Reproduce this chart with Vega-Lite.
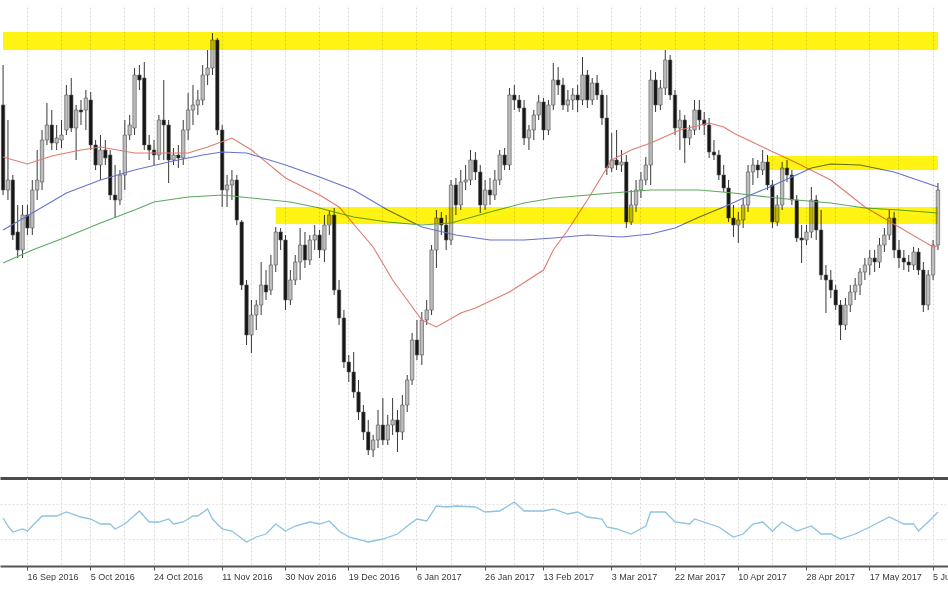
{
  "$schema": "https://vega.github.io/schema/vega-lite/v6.json",
  "padding": {"left": 0, "top": 7, "right": 0, "bottom": 0},
  "background": "white",
  "config": {"view": {"stroke": null}, "axis": {"labelFont": "Liberation Sans"}},
  "spacing": 0,
  "resolve": {"scale": {"x": "shared"}},
  "datasets": {
    "candles": [
      {"d":"2016-09-09","o":375,"h":415,"l":285,"c":290},
      {"d":"2016-09-12","o":290,"h":360,"l":280,"c":300},
      {"d":"2016-09-13","o":300,"h":305,"l":240,"c":245},
      {"d":"2016-09-14","o":248,"h":275,"l":222,"c":230},
      {"d":"2016-09-15","o":230,"h":275,"l":222,"c":265},
      {"d":"2016-09-16","o":265,"h":275,"l":245,"c":252},
      {"d":"2016-09-19","o":252,"h":300,"l":245,"c":290},
      {"d":"2016-09-20","o":290,"h":330,"l":280,"c":300},
      {"d":"2016-09-21","o":298,"h":350,"l":290,"c":340},
      {"d":"2016-09-22","o":340,"h":377,"l":335,"c":355},
      {"d":"2016-09-23","o":355,"h":370,"l":330,"c":337},
      {"d":"2016-09-26","o":337,"h":355,"l":330,"c":342},
      {"d":"2016-09-27","o":340,"h":360,"l":332,"c":345},
      {"d":"2016-09-28","o":350,"h":395,"l":345,"c":385},
      {"d":"2016-09-29","o":385,"h":402,"l":348,"c":352},
      {"d":"2016-09-30","o":352,"h":375,"l":320,"c":370},
      {"d":"2016-10-03","o":370,"h":380,"l":355,"c":368},
      {"d":"2016-10-04","o":370,"h":390,"l":350,"c":382},
      {"d":"2016-10-05","o":380,"h":388,"l":330,"c":335},
      {"d":"2016-10-06","o":335,"h":340,"l":310,"c":315},
      {"d":"2016-10-07","o":315,"h":345,"l":300,"c":330},
      {"d":"2016-10-10","o":330,"h":340,"l":315,"c":322},
      {"d":"2016-10-11","o":325,"h":330,"l":280,"c":285},
      {"d":"2016-10-12","o":285,"h":315,"l":263,"c":280},
      {"d":"2016-10-13","o":280,"h":310,"l":275,"c":305},
      {"d":"2016-10-14","o":305,"h":360,"l":290,"c":345},
      {"d":"2016-10-17","o":345,"h":365,"l":340,"c":355},
      {"d":"2016-10-18","o":352,"h":412,"l":345,"c":405},
      {"d":"2016-10-19","o":405,"h":415,"l":390,"c":400},
      {"d":"2016-10-20","o":402,"h":418,"l":330,"c":335},
      {"d":"2016-10-21","o":335,"h":345,"l":320,"c":330},
      {"d":"2016-10-24","o":330,"h":340,"l":315,"c":325},
      {"d":"2016-10-25","o":325,"h":365,"l":320,"c":360},
      {"d":"2016-10-26","o":360,"h":400,"l":320,"c":355},
      {"d":"2016-10-27","o":355,"h":360,"l":297,"c":320},
      {"d":"2016-10-28","o":320,"h":332,"l":315,"c":325},
      {"d":"2016-10-31","o":325,"h":335,"l":312,"c":322},
      {"d":"2016-11-01","o":322,"h":360,"l":315,"c":350},
      {"d":"2016-11-02","o":350,"h":387,"l":340,"c":370},
      {"d":"2016-11-03","o":370,"h":395,"l":355,"c":375},
      {"d":"2016-11-04","o":375,"h":390,"l":365,"c":380},
      {"d":"2016-11-07","o":380,"h":415,"l":375,"c":405},
      {"d":"2016-11-08","o":405,"h":430,"l":395,"c":412},
      {"d":"2016-11-09","o":412,"h":447,"l":405,"c":440},
      {"d":"2016-11-10","o":440,"h":442,"l":345,"c":350},
      {"d":"2016-11-11","o":350,"h":355,"l":273,"c":290},
      {"d":"2016-11-14","o":290,"h":305,"l":273,"c":295},
      {"d":"2016-11-15","o":295,"h":310,"l":280,"c":300},
      {"d":"2016-11-16","o":300,"h":305,"l":255,"c":260},
      {"d":"2016-11-17","o":258,"h":260,"l":190,"c":195},
      {"d":"2016-11-18","o":195,"h":200,"l":135,"c":145},
      {"d":"2016-11-21","o":145,"h":180,"l":127,"c":165},
      {"d":"2016-11-22","o":165,"h":180,"l":150,"c":175},
      {"d":"2016-11-23","o":175,"h":218,"l":165,"c":195},
      {"d":"2016-11-24","o":195,"h":210,"l":180,"c":188},
      {"d":"2016-11-25","o":190,"h":225,"l":185,"c":215},
      {"d":"2016-11-28","o":215,"h":253,"l":208,"c":248},
      {"d":"2016-11-29","o":248,"h":252,"l":230,"c":240},
      {"d":"2016-11-30","o":240,"h":245,"l":170,"c":180},
      {"d":"2016-12-01","o":180,"h":210,"l":175,"c":200},
      {"d":"2016-12-02","o":200,"h":225,"l":195,"c":218},
      {"d":"2016-12-05","o":218,"h":252,"l":200,"c":235},
      {"d":"2016-12-06","o":235,"h":248,"l":212,"c":220},
      {"d":"2016-12-07","o":220,"h":245,"l":215,"c":240},
      {"d":"2016-12-08","o":240,"h":255,"l":230,"c":245},
      {"d":"2016-12-09","o":245,"h":250,"l":222,"c":230},
      {"d":"2016-12-12","o":230,"h":265,"l":218,"c":255},
      {"d":"2016-12-13","o":255,"h":270,"l":245,"c":265},
      {"d":"2016-12-14","o":265,"h":272,"l":185,"c":190},
      {"d":"2016-12-15","o":190,"h":200,"l":155,"c":162},
      {"d":"2016-12-16","o":162,"h":170,"l":112,"c":118},
      {"d":"2016-12-19","o":118,"h":125,"l":98,"c":108},
      {"d":"2016-12-20","o":108,"h":128,"l":82,"c":88},
      {"d":"2016-12-21","o":88,"h":100,"l":60,"c":68},
      {"d":"2016-12-22","o":68,"h":75,"l":40,"c":48},
      {"d":"2016-12-23","o":48,"h":60,"l":25,"c":30},
      {"d":"2016-12-26","o":30,"h":45,"l":23,"c":40},
      {"d":"2016-12-27","o":40,"h":70,"l":32,"c":55},
      {"d":"2016-12-28","o":55,"h":82,"l":35,"c":40},
      {"d":"2016-12-29","o":40,"h":65,"l":35,"c":55},
      {"d":"2016-12-30","o":55,"h":82,"l":45,"c":60},
      {"d":"2017-01-02","o":60,"h":70,"l":28,"c":48},
      {"d":"2017-01-03","o":48,"h":85,"l":40,"c":75},
      {"d":"2017-01-04","o":75,"h":105,"l":68,"c":100},
      {"d":"2017-01-05","o":100,"h":147,"l":95,"c":140},
      {"d":"2017-01-06","o":140,"h":160,"l":120,"c":125},
      {"d":"2017-01-09","o":125,"h":168,"l":115,"c":160},
      {"d":"2017-01-10","o":160,"h":180,"l":155,"c":170},
      {"d":"2017-01-11","o":170,"h":235,"l":165,"c":230},
      {"d":"2017-01-12","o":230,"h":270,"l":212,"c":262},
      {"d":"2017-01-13","o":262,"h":268,"l":245,"c":255},
      {"d":"2017-01-16","o":255,"h":265,"l":230,"c":240},
      {"d":"2017-01-17","o":240,"h":300,"l":235,"c":295},
      {"d":"2017-01-18","o":295,"h":302,"l":265,"c":275},
      {"d":"2017-01-19","o":275,"h":310,"l":270,"c":298},
      {"d":"2017-01-20","o":298,"h":315,"l":290,"c":300},
      {"d":"2017-01-23","o":300,"h":330,"l":295,"c":320},
      {"d":"2017-01-24","o":320,"h":328,"l":300,"c":308},
      {"d":"2017-01-25","o":308,"h":315,"l":267,"c":275},
      {"d":"2017-01-26","o":275,"h":300,"l":270,"c":290},
      {"d":"2017-01-27","o":290,"h":302,"l":275,"c":285},
      {"d":"2017-01-30","o":285,"h":310,"l":280,"c":300},
      {"d":"2017-01-31","o":300,"h":330,"l":295,"c":325},
      {"d":"2017-02-01","o":325,"h":332,"l":310,"c":315},
      {"d":"2017-02-02","o":315,"h":392,"l":310,"c":385},
      {"d":"2017-02-03","o":385,"h":395,"l":370,"c":380},
      {"d":"2017-02-06","o":380,"h":385,"l":368,"c":372},
      {"d":"2017-02-07","o":372,"h":380,"l":335,"c":342},
      {"d":"2017-02-08","o":342,"h":355,"l":330,"c":350},
      {"d":"2017-02-09","o":350,"h":370,"l":340,"c":365},
      {"d":"2017-02-10","o":365,"h":385,"l":360,"c":378},
      {"d":"2017-02-13","o":378,"h":382,"l":340,"c":350},
      {"d":"2017-02-14","o":350,"h":380,"l":345,"c":375},
      {"d":"2017-02-15","o":375,"h":417,"l":370,"c":400},
      {"d":"2017-02-16","o":400,"h":413,"l":385,"c":395},
      {"d":"2017-02-17","o":395,"h":402,"l":370,"c":375},
      {"d":"2017-02-20","o":375,"h":390,"l":368,"c":380},
      {"d":"2017-02-21","o":380,"h":392,"l":370,"c":385},
      {"d":"2017-02-22","o":385,"h":395,"l":368,"c":380},
      {"d":"2017-02-23","o":380,"h":423,"l":375,"c":405},
      {"d":"2017-02-24","o":405,"h":410,"l":372,"c":380},
      {"d":"2017-02-27","o":380,"h":402,"l":375,"c":397},
      {"d":"2017-02-28","o":397,"h":405,"l":380,"c":385},
      {"d":"2017-03-01","o":385,"h":390,"l":355,"c":362},
      {"d":"2017-03-02","o":362,"h":385,"l":305,"c":312},
      {"d":"2017-03-03","o":312,"h":347,"l":308,"c":320},
      {"d":"2017-03-06","o":320,"h":350,"l":310,"c":315},
      {"d":"2017-03-07","o":315,"h":330,"l":308,"c":318},
      {"d":"2017-03-08","o":318,"h":325,"l":252,"c":258},
      {"d":"2017-03-09","o":258,"h":290,"l":255,"c":275},
      {"d":"2017-03-10","o":275,"h":300,"l":268,"c":290},
      {"d":"2017-03-13","o":290,"h":308,"l":282,"c":300},
      {"d":"2017-03-14","o":300,"h":323,"l":295,"c":315},
      {"d":"2017-03-15","o":315,"h":410,"l":295,"c":400},
      {"d":"2017-03-16","o":400,"h":408,"l":368,"c":375},
      {"d":"2017-03-17","o":375,"h":400,"l":370,"c":392},
      {"d":"2017-03-20","o":392,"h":430,"l":385,"c":420},
      {"d":"2017-03-21","o":420,"h":425,"l":380,"c":385},
      {"d":"2017-03-22","o":385,"h":390,"l":345,"c":352},
      {"d":"2017-03-23","o":352,"h":370,"l":330,"c":360},
      {"d":"2017-03-24","o":360,"h":365,"l":317,"c":342},
      {"d":"2017-03-27","o":342,"h":355,"l":335,"c":350},
      {"d":"2017-03-28","o":350,"h":380,"l":345,"c":370},
      {"d":"2017-03-29","o":370,"h":380,"l":350,"c":360},
      {"d":"2017-03-30","o":360,"h":368,"l":345,"c":355},
      {"d":"2017-03-31","o":355,"h":362,"l":322,"c":328},
      {"d":"2017-04-03","o":328,"h":340,"l":320,"c":325},
      {"d":"2017-04-04","o":325,"h":330,"l":300,"c":305},
      {"d":"2017-04-05","o":305,"h":315,"l":288,"c":292},
      {"d":"2017-04-06","o":292,"h":300,"l":258,"c":262},
      {"d":"2017-04-07","o":262,"h":275,"l":243,"c":255},
      {"d":"2017-04-10","o":255,"h":268,"l":237,"c":260},
      {"d":"2017-04-11","o":260,"h":282,"l":252,"c":275},
      {"d":"2017-04-12","o":275,"h":315,"l":268,"c":308},
      {"d":"2017-04-13","o":308,"h":322,"l":295,"c":315},
      {"d":"2017-04-14","o":315,"h":320,"l":302,"c":310},
      {"d":"2017-04-17","o":310,"h":330,"l":305,"c":318},
      {"d":"2017-04-18","o":318,"h":325,"l":290,"c":295},
      {"d":"2017-04-19","o":295,"h":300,"l":252,"c":258},
      {"d":"2017-04-20","o":258,"h":285,"l":254,"c":275},
      {"d":"2017-04-21","o":275,"h":318,"l":270,"c":312},
      {"d":"2017-04-24","o":312,"h":320,"l":298,"c":305},
      {"d":"2017-04-25","o":305,"h":310,"l":275,"c":280},
      {"d":"2017-04-26","o":280,"h":285,"l":238,"c":242},
      {"d":"2017-04-27","o":242,"h":255,"l":217,"c":240},
      {"d":"2017-04-28","o":240,"h":255,"l":235,"c":248},
      {"d":"2017-05-01","o":248,"h":293,"l":242,"c":280},
      {"d":"2017-05-02","o":280,"h":285,"l":240,"c":250},
      {"d":"2017-05-03","o":250,"h":270,"l":200,"c":205},
      {"d":"2017-05-04","o":205,"h":215,"l":167,"c":200},
      {"d":"2017-05-05","o":200,"h":210,"l":182,"c":190},
      {"d":"2017-05-08","o":190,"h":195,"l":170,"c":175},
      {"d":"2017-05-09","o":175,"h":180,"l":140,"c":155},
      {"d":"2017-05-10","o":155,"h":182,"l":150,"c":175},
      {"d":"2017-05-11","o":175,"h":195,"l":168,"c":188},
      {"d":"2017-05-12","o":188,"h":202,"l":180,"c":195},
      {"d":"2017-05-15","o":195,"h":212,"l":185,"c":208},
      {"d":"2017-05-16","o":208,"h":222,"l":200,"c":215},
      {"d":"2017-05-17","o":215,"h":230,"l":205,"c":222},
      {"d":"2017-05-18","o":222,"h":230,"l":208,"c":218},
      {"d":"2017-05-19","o":218,"h":242,"l":212,"c":235},
      {"d":"2017-05-22","o":235,"h":252,"l":228,"c":245},
      {"d":"2017-05-23","o":245,"h":270,"l":240,"c":262},
      {"d":"2017-05-24","o":262,"h":268,"l":222,"c":230},
      {"d":"2017-05-25","o":230,"h":240,"l":212,"c":222},
      {"d":"2017-05-26","o":222,"h":230,"l":210,"c":218},
      {"d":"2017-05-29","o":218,"h":225,"l":208,"c":215},
      {"d":"2017-05-30","o":215,"h":233,"l":210,"c":228},
      {"d":"2017-05-31","o":228,"h":232,"l":205,"c":210},
      {"d":"2017-06-01","o":210,"h":218,"l":168,"c":175},
      {"d":"2017-06-02","o":175,"h":210,"l":170,"c":205},
      {"d":"2017-06-05","o":205,"h":240,"l":200,"c":235},
      {"d":"2017-06-06","o":235,"h":297,"l":230,"c":290}
    ],
    "ma": [
      {"s":"red","d":"2016-09-09","v":323},{"s":"red","d":"2016-09-16","v":316},{"s":"red","d":"2016-09-23","v":324},
      {"s":"red","d":"2016-10-03","v":330},{"s":"red","d":"2016-10-07","v":333},{"s":"red","d":"2016-10-18","v":327},
      {"s":"red","d":"2016-10-27","v":327},{"s":"red","d":"2016-11-02","v":327},{"s":"red","d":"2016-11-08","v":333},
      {"s":"red","d":"2016-11-15","v":342},{"s":"red","d":"2016-11-21","v":330},{"s":"red","d":"2016-11-30","v":302},
      {"s":"red","d":"2016-12-09","v":285},{"s":"red","d":"2016-12-15","v":273},{"s":"red","d":"2016-12-26","v":233},
      {"s":"red","d":"2016-12-30","v":200},{"s":"red","d":"2017-01-09","v":160},{"s":"red","d":"2017-01-12","v":153},
      {"s":"red","d":"2017-01-19","v":167},{"s":"red","d":"2017-01-24","v":172},{"s":"red","d":"2017-02-02","v":188},
      {"s":"red","d":"2017-02-13","v":210},{"s":"red","d":"2017-02-15","v":230},{"s":"red","d":"2017-02-20","v":250},
      {"s":"red","d":"2017-02-24","v":280},{"s":"red","d":"2017-03-03","v":320},{"s":"red","d":"2017-03-09","v":330},
      {"s":"red","d":"2017-03-15","v":337},{"s":"red","d":"2017-03-23","v":350},{"s":"red","d":"2017-03-31","v":357},
      {"s":"red","d":"2017-04-05","v":353},{"s":"red","d":"2017-04-07","v":347},{"s":"red","d":"2017-04-17","v":333},
      {"s":"red","d":"2017-04-26","v":317},{"s":"red","d":"2017-05-05","v":300},{"s":"red","d":"2017-05-16","v":273},
      {"s":"red","d":"2017-05-25","v":253},{"s":"red","d":"2017-06-05","v":233},{"s":"red","d":"2017-06-06","v":234},
      {"s":"blue","d":"2016-09-09","v":250},{"s":"blue","d":"2016-09-19","v":267},{"s":"blue","d":"2016-09-28","v":287},
      {"s":"blue","d":"2016-10-07","v":300},{"s":"blue","d":"2016-10-18","v":310},{"s":"blue","d":"2016-10-27","v":318},
      {"s":"blue","d":"2016-11-07","v":325},{"s":"blue","d":"2016-11-11","v":328},{"s":"blue","d":"2016-11-18","v":327},
      {"s":"blue","d":"2016-11-30","v":315},{"s":"blue","d":"2016-12-09","v":303},{"s":"blue","d":"2016-12-20","v":290},
      {"s":"blue","d":"2016-12-29","v":270},{"s":"blue","d":"2017-01-09","v":253},{"s":"blue","d":"2017-01-18","v":245},
      {"s":"blue","d":"2017-01-27","v":240},{"s":"blue","d":"2017-02-07","v":240},{"s":"blue","d":"2017-02-15","v":242},
      {"s":"blue","d":"2017-02-24","v":245},{"s":"blue","d":"2017-03-07","v":243},{"s":"blue","d":"2017-03-15","v":246},
      {"s":"blue","d":"2017-03-22","v":252},{"s":"blue","d":"2017-03-29","v":263},{"s":"blue","d":"2017-04-05","v":273},
      {"s":"blue","d":"2017-04-12","v":284},{"s":"blue","d":"2017-04-18","v":292},{"s":"blue","d":"2017-04-25","v":303},
      {"s":"blue","d":"2017-05-01","v":312},{"s":"blue","d":"2017-05-05","v":316},{"s":"blue","d":"2017-05-15","v":315},
      {"s":"blue","d":"2017-05-24","v":308},{"s":"blue","d":"2017-06-01","v":298},{"s":"blue","d":"2017-06-06","v":293},
      {"s":"green","d":"2016-09-09","v":217},{"s":"green","d":"2016-09-19","v":230},{"s":"green","d":"2016-09-28","v":243},
      {"s":"green","d":"2016-10-07","v":257},{"s":"green","d":"2016-10-18","v":270},{"s":"green","d":"2016-10-24","v":278},
      {"s":"green","d":"2016-11-02","v":283},{"s":"green","d":"2016-11-11","v":285},{"s":"green","d":"2016-11-17","v":283},
      {"s":"green","d":"2016-12-01","v":278},{"s":"green","d":"2016-12-09","v":272},{"s":"green","d":"2016-12-14","v":268},
      {"s":"green","d":"2016-12-20","v":263},{"s":"green","d":"2016-12-29","v":258},{"s":"green","d":"2017-01-09","v":255},
      {"s":"green","d":"2017-01-17","v":257},{"s":"green","d":"2017-01-27","v":268},{"s":"green","d":"2017-02-07","v":277},
      {"s":"green","d":"2017-02-15","v":282},{"s":"green","d":"2017-03-03","v":287},{"s":"green","d":"2017-03-15","v":290},
      {"s":"green","d":"2017-03-29","v":290},{"s":"green","d":"2017-04-07","v":287},{"s":"green","d":"2017-04-18","v":283},
      {"s":"green","d":"2017-04-26","v":280},{"s":"green","d":"2017-05-05","v":277},{"s":"green","d":"2017-05-16","v":272},
      {"s":"green","d":"2017-05-25","v":270},{"s":"green","d":"2017-06-06","v":267}
    ],
    "zones": [
      {"zone":"top","d":"2016-09-09","lo":430,"hi":448},
      {"zone":"top","d":"2017-06-06","lo":430,"hi":448},
      {"zone":"mid","d":"2017-04-18","lo":310,"hi":324},
      {"zone":"mid","d":"2017-06-06","lo":310,"hi":324},
      {"zone":"low","d":"2016-11-28","lo":256,"hi":273},
      {"zone":"low","d":"2017-06-06","lo":256,"hi":273}
    ],
    "osc": [
      {"d":"2016-09-09","v":48},{"d":"2016-09-12","v":40},{"d":"2016-09-13","v":34},{"d":"2016-09-15","v":37},
      {"d":"2016-09-16","v":35},{"d":"2016-09-21","v":50},{"d":"2016-09-26","v":50},{"d":"2016-09-28","v":54},
      {"d":"2016-10-03","v":49},{"d":"2016-10-05","v":47},{"d":"2016-10-07","v":42},{"d":"2016-10-11","v":42},
      {"d":"2016-10-12","v":37},{"d":"2016-10-14","v":42},{"d":"2016-10-19","v":55},{"d":"2016-10-21","v":44},
      {"d":"2016-10-25","v":44},{"d":"2016-10-27","v":47},{"d":"2016-10-28","v":42},{"d":"2016-11-01","v":44},
      {"d":"2016-11-03","v":50},{"d":"2016-11-04","v":50},{"d":"2016-11-08","v":57},{"d":"2016-11-09","v":47},
      {"d":"2016-11-11","v":37},{"d":"2016-11-15","v":35},{"d":"2016-11-18","v":24},{"d":"2016-11-22","v":29},
      {"d":"2016-11-24","v":32},{"d":"2016-11-28","v":42},{"d":"2016-11-30","v":35},{"d":"2016-12-02","v":40},
      {"d":"2016-12-07","v":44},{"d":"2016-12-09","v":42},{"d":"2016-12-13","v":45},{"d":"2016-12-15","v":35},
      {"d":"2016-12-19","v":29},{"d":"2016-12-23","v":24},{"d":"2016-12-28","v":27},{"d":"2017-01-02","v":32},
      {"d":"2017-01-04","v":40},{"d":"2017-01-06","v":47},{"d":"2017-01-10","v":45},{"d":"2017-01-12","v":60},
      {"d":"2017-01-16","v":59},{"d":"2017-01-18","v":60},{"d":"2017-01-24","v":59},{"d":"2017-01-26","v":54},
      {"d":"2017-01-31","v":55},{"d":"2017-02-03","v":64},{"d":"2017-02-07","v":55},{"d":"2017-02-13","v":55},
      {"d":"2017-02-15","v":57},{"d":"2017-02-20","v":52},{"d":"2017-02-22","v":54},{"d":"2017-02-24","v":49},
      {"d":"2017-03-01","v":47},{"d":"2017-03-02","v":39},{"d":"2017-03-06","v":37},{"d":"2017-03-09","v":32},
      {"d":"2017-03-14","v":40},{"d":"2017-03-15","v":54},{"d":"2017-03-20","v":54},{"d":"2017-03-22","v":44},
      {"d":"2017-03-27","v":42},{"d":"2017-03-28","v":47},{"d":"2017-04-04","v":39},{"d":"2017-04-07","v":29},
      {"d":"2017-04-11","v":32},{"d":"2017-04-13","v":42},{"d":"2017-04-17","v":44},{"d":"2017-04-19","v":35},
      {"d":"2017-04-21","v":44},{"d":"2017-04-26","v":35},{"d":"2017-05-01","v":40},{"d":"2017-05-03","v":32},
      {"d":"2017-05-05","v":32},{"d":"2017-05-09","v":27},{"d":"2017-05-12","v":32},{"d":"2017-05-17","v":39},
      {"d":"2017-05-19","v":44},{"d":"2017-05-23","v":49},{"d":"2017-05-26","v":42},{"d":"2017-05-30","v":42},
      {"d":"2017-05-31","v":35},{"d":"2017-06-02","v":44},{"d":"2017-06-06","v":54}
    ]
  },
  "vconcat": [
    {
      "width": 948,
      "height": 471,
      "encoding": {
        "x": {
          "field": "d", "type": "ordinal",
          "scale": {"type": "band", "paddingInner": 0.3, "paddingOuter": 1.5, "align": 0.142},
          "axis": {
            "orient": "bottom", "title": null, "labels": false, "ticks": false,
            "domain": true, "domainColor": "#4c4c4c", "domainWidth": 3,
            "grid": true, "gridColor": "#d9d9d9", "gridDash": [2, 2],
            "values": ["2016-09-16","2016-09-27","2016-10-05","2016-10-14","2016-10-24","2016-11-02","2016-11-11","2016-11-21","2016-11-30","2016-12-09","2016-12-19","2016-12-28","2017-01-06","2017-01-17","2017-01-26","2017-02-03","2017-02-13","2017-02-22","2017-03-03","2017-03-13","2017-03-22","2017-03-30","2017-04-10","2017-04-19","2017-04-28","2017-05-08","2017-05-17","2017-05-25","2017-06-05"]
          }
        }
      },
      "layer": [
        {
          "data": {"name": "candles"},
          "mark": {"type": "rule", "color": "#383838", "strokeWidth": 1},
          "encoding": {
            "y": {
              "field": "l", "type": "quantitative",
              "scale": {"domain": [2, 473], "nice": false, "zero": false},
              "axis": {
                "title": null, "labels": false, "ticks": false, "domain": false, "grid": true,
                "values": [7, 40, 73, 106, 139, 172, 205, 238, 271, 304, 337, 370, 403, 436, 473],
                "gridColor": {"condition": {"test": "datum.value === 473", "value": "#a3a3a3"}, "value": "#d9d9d9"},
                "gridDash": {"condition": {"test": "datum.value === 473", "value": []}, "value": [2, 2]},
                "gridWidth": {"condition": {"test": "datum.value === 473", "value": 2}, "value": 1}
              }
            },
            "y2": {"field": "h"}
          }
        },
        {
          "data": {"name": "candles"},
          "mark": {"type": "bar", "stroke": "#505050", "strokeWidth": 0.6},
          "encoding": {
            "y": {"field": "o", "type": "quantitative", "scale": {"domain": [2, 473], "nice": false, "zero": false}, "axis": null},
            "y2": {"field": "c"},
            "color": {"condition": {"test": "datum.c >= datum.o", "value": "#bdbdbd"}, "value": "#161616"}
          }
        },
        {
          "data": {"name": "ma"},
          "mark": {"type": "line", "strokeWidth": 1.1},
          "encoding": {
            "y": {"field": "v", "type": "quantitative", "scale": {"domain": [2, 473], "nice": false, "zero": false}, "axis": null},
            "color": {"field": "s", "type": "nominal", "scale": {"domain": ["red", "blue", "green"], "range": ["#e07b6e", "#6672cf", "#5ea85e"]}, "legend": null}
          }
        },
        {
          "data": {"name": "zones"},
          "mark": {"type": "area", "color": "#fff200", "opacity": 0.92, "blend": "multiply"},
          "encoding": {
            "y": {"field": "lo", "type": "quantitative", "stack": null, "scale": {"domain": [2, 473], "nice": false, "zero": false}, "axis": null},
            "y2": {"field": "hi"},
            "detail": {"field": "zone", "type": "nominal"}
          }
        }
      ]
    },
    {
      "width": 948,
      "height": 88,
      "data": {"name": "osc"},
      "mark": {"type": "line", "color": "#8cc2e2", "strokeWidth": 1.3},
      "encoding": {
        "x": {
          "field": "d", "type": "ordinal",
          "scale": {"type": "band", "paddingInner": 0.3, "paddingOuter": 1.5, "align": 0.142},
          "axis": {
            "orient": "bottom", "title": null, "labelAngle": 0, "labelAlign": "left", "labelBaseline": "top",
            "labelPadding": 2, "labelFont": "Liberation Sans", "labelFontSize": 9, "labelColor": "#3a3a3a",
            "labelOverlap": false, "labelBound": false, "labelFlush": false,
            "tickSize": 4, "tickColor": "#555555",
            "tickOpacity": {"condition": {"test": "indexof(['2016-09-16','2016-10-05','2016-10-24','2016-11-11','2016-11-30','2016-12-19','2017-01-06','2017-01-26','2017-02-13','2017-03-03','2017-03-22','2017-04-10','2017-04-28','2017-05-17','2017-06-05'], datum.value) < 0", "value": 0}, "value": 1},
            "domainColor": "#555555", "domainWidth": 2,
            "grid": true, "gridColor": "#d9d9d9", "gridDash": [2, 2],
            "values": ["2016-09-16","2016-09-27","2016-10-05","2016-10-14","2016-10-24","2016-11-02","2016-11-11","2016-11-21","2016-11-30","2016-12-09","2016-12-19","2016-12-28","2017-01-06","2017-01-17","2017-01-26","2017-02-03","2017-02-13","2017-02-22","2017-03-03","2017-03-13","2017-03-22","2017-03-30","2017-04-10","2017-04-19","2017-04-28","2017-05-08","2017-05-17","2017-05-25","2017-06-05"],
            "labelExpr": "indexof(['2016-09-16','2016-10-05','2016-10-24','2016-11-11','2016-11-30','2016-12-19','2017-01-06','2017-01-26','2017-02-13','2017-03-03','2017-03-22','2017-04-10','2017-04-28','2017-05-17','2017-06-05'], datum.value) >= 0 ? utcFormat(toDate(datum.value), '%-d %b %Y') : ''"
          }
        },
        "y": {
          "field": "v", "type": "quantitative",
          "scale": {"domain": [0, 88], "nice": false, "zero": false},
          "axis": {"title": null, "labels": false, "ticks": false, "domain": false, "grid": true, "values": [27, 62], "gridColor": "#e2e2e2", "gridDash": [2, 2]}
        }
      }
    }
  ]
}
